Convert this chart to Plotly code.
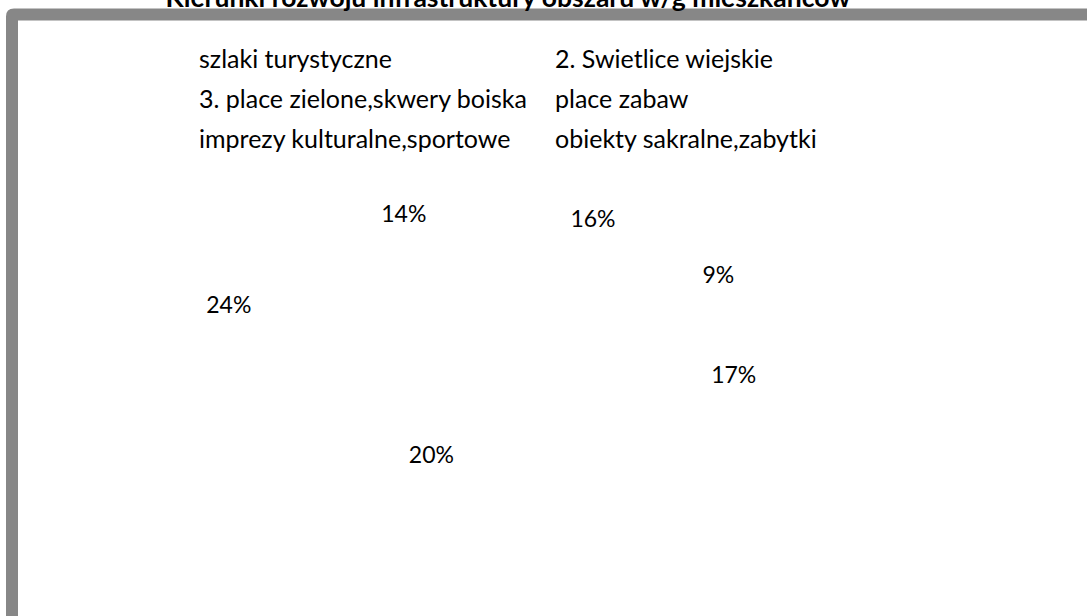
import math
import plotly.graph_objects as go

# ---------------- data ----------------
categories = [
    "szlaki turystyczne",
    "2. Swietlice wiejskie",
    "3. place zielone,skwery boiska",
    "place zabaw",
    "imprezy kulturalne,sportowe",
    "obiekty sakralne,zabytki",
]
values = [16, 9, 17, 20, 24, 14]
title_text = "Kierunki rozwoju infrastruktury obszaru w/g mieszkańców"

# ---------------- style / layout constants ----------------
W, H = 1087, 616
FONT = "Lato, 'Open Sans', sans-serif"
TEXT_COLOR = "#000000"
FRAME_COLOR = "#878787"
PERSP = 0.25            # 3-D tilt perspective of the (invisible) pie
FIRST_SLICE_DEG = 2.0   # angle of first slice (clockwise from 12 o'clock)
PIE_CX, PIE_CY = 485.5, 304.0   # pie centre in pixels
PIE_A, PIE_B = 255.0, 117.0     # label-ring radii in pixels (horizontal, vertical)
LEGEND_COLS_PX = [159, 515]     # left edge of each legend column
LEGEND_TOP_PX = 32

# ---------------- derived label positions (from data) ----------------
total = sum(values)
pct_text = [f"{round(v / total * 100)}%" for v in values]
lx, ly = [], []
cum = 0.0
for v in values:
    mid = math.radians(FIRST_SLICE_DEG) + 2 * math.pi * (cum + v / 2) / total
    cum += v
    s = 1.0 / (1.0 + PERSP * math.cos(mid))
    lx.append(math.sin(mid) * s)
    ly.append(math.cos(mid) * s)

x_range = [-PIE_CX / PIE_A, (W - PIE_CX) / PIE_A]
y_range = [-(H - PIE_CY) / PIE_B, PIE_CY / PIE_B]

fig = go.Figure()

# legend entries (the pie slices themselves are not rendered in the original)
for i, cat in enumerate(categories):
    fig.add_trace(go.Scatter(
        x=[None], y=[None], mode="markers",
        marker=dict(color="rgba(0,0,0,0)", size=1),
        name=f"<span style='font-size:25px'>{cat}</span>",
        legend="legend" if i % 2 == 0 else "legend2",
        hoverinfo="skip", showlegend=True,
    ))

# percentage labels
fig.add_trace(go.Scatter(
    x=lx, y=ly, mode="text", text=pct_text,
    textposition="middle center",
    textfont=dict(family=FONT, size=23, color=TEXT_COLOR),
    hoverinfo="skip", showlegend=False, cliponaxis=False,
))

def px(x):
    return x / W

def py(y):
    return 1 - y / H

# frame (grey rounded border, left + top)
ox, oy, ix, iy, R = 6, 8.5, 18, 20.5, 8
path = (
    f"M {px(ox)},{py(H + 20)} L {px(ox)},{py(oy + R)} "
    f"Q {px(ox)},{py(oy)} {px(ox + R)},{py(oy)} "
    f"L {px(W + 20)},{py(oy)} L {px(W + 20)},{py(iy)} "
    f"L {px(ix)},{py(iy)} L {px(ix)},{py(H + 20)} Z"
)

legend_common = dict(
    orientation="v", traceorder="normal",
    xanchor="left", y=1 - LEGEND_TOP_PX / H, yanchor="top",
    font=dict(family=FONT, size=28.5, color=TEXT_COLOR),
    bgcolor="rgba(0,0,0,0)", borderwidth=0,
    itemclick=False, itemdoubleclick=False,
)

fig.update_layout(
    width=W, height=H,
    margin=dict(l=0, r=0, t=0, b=0),
    paper_bgcolor="white", plot_bgcolor="white",
    font=dict(family=FONT, color=TEXT_COLOR),
    title=dict(
        text=f"<b>{title_text}</b>",
        font=dict(family=FONT, size=26.5, color=TEXT_COLOR),
        x=508 / W, xanchor="center", xref="container",
        y=1 - 7 / H, yanchor="bottom", yref="container",
    ),
    xaxis=dict(visible=False, range=x_range, fixedrange=True),
    yaxis=dict(visible=False, range=y_range, fixedrange=True),
    legend=dict(x=LEGEND_COLS_PX[0] / W, **legend_common),
    legend2=dict(x=LEGEND_COLS_PX[1] / W, **legend_common),
    shapes=[dict(
        type="path", path=path, xref="paper", yref="paper",
        fillcolor=FRAME_COLOR, line=dict(width=0), layer="above",
    )],
    showlegend=True,
)

fig.write_html(
    "out.html",
    config={"displayModeBar": False},
    post_script="document.body.style.margin='0';",
)
